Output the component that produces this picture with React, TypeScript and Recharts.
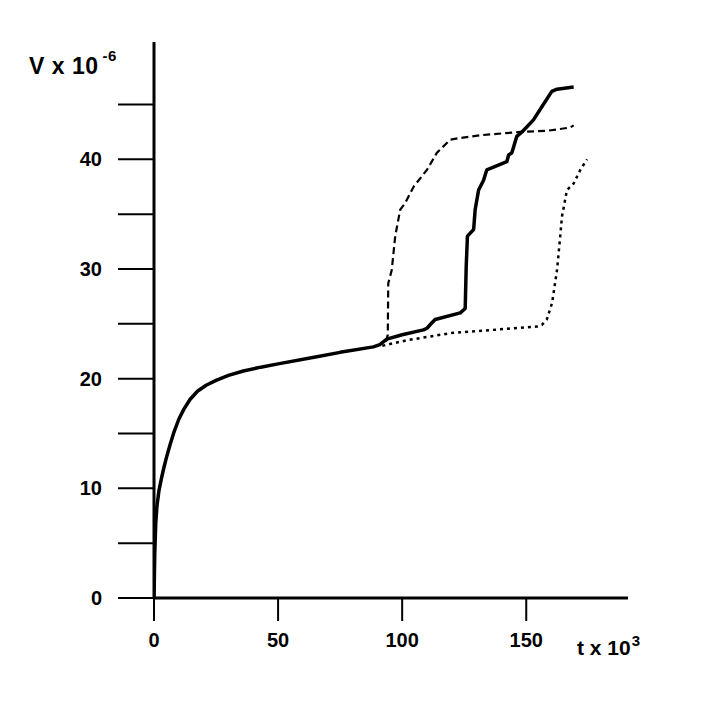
import React from "react";
import { LineChart, Line, XAxis, YAxis, Label } from "recharts";

// t (x 10^3), V (x 10^-6)
const solidT = [0, 0.3, 0.7, 1.2, 2, 3, 4, 5, 6.5, 8, 10, 12, 14.5, 17.5, 21, 25, 30, 36, 43, 50, 65.6, 75, 88.4, 91, 93.8, 100, 108.6, 110, 112, 113.3, 123.4, 125.4, 125.8, 126.3, 128.8, 129.4, 130.8, 132.8, 134.1, 142.2, 142.9, 144.2, 146.2, 148.3, 152.9, 156.3, 160.3, 162.4, 169.1];
const solidV = [0, 4, 6.8, 8.4, 9.8, 10.9, 11.9, 12.8, 14.0, 15.1, 16.3, 17.2, 18.1, 18.85, 19.4, 19.85, 20.3, 20.7, 21.05, 21.35, 22.0, 22.4, 22.9, 23.1, 23.6, 24.0, 24.45, 24.6, 25.1, 25.4, 26.0, 26.4, 30.2, 33.0, 33.6, 35.4, 37.2, 38.1, 39.05, 39.8, 40.4, 40.6, 42.1, 42.5, 43.6, 44.8, 46.2, 46.4, 46.6];

const dashedT = [93.5, 94.2, 94.4, 95.8, 97.2, 99.2, 101.2, 104.6, 110, 114, 119.4, 123.4, 131.5, 147.6, 158.3, 167.7, 169.1];
const dashedV = [23.4, 24.0, 28.7, 29.9, 33.0, 35.4, 36.0, 37.5, 39.05, 40.6, 41.8, 41.95, 42.2, 42.5, 42.6, 42.9, 43.1];

const dottedT = [92, 101.9, 119.4, 139.5, 154.3, 156.3, 158.3, 160.4, 162.4, 163.7, 164.4, 166.4, 169.1, 171.8, 174.5];
const dottedV = [23.0, 23.5, 24.15, 24.5, 24.75, 24.9, 25.4, 26.9, 29.9, 33.0, 34.8, 37.2, 37.8, 39.05, 40.0];

const xTicks = [0, 50, 100, 150];
const yTicks = [0, 5, 10, 15, 20, 25, 30, 35, 40, 45];
const yLabelTicks = [0, 10, 20, 30, 40];

const toData = (ts: number[], vs: number[]) => ts.map((t, i) => ({ t, v: vs[i] }));
const solidData = toData(solidT, solidV);
const dashedData = toData(dashedT, dashedV);
const dottedData = toData(dottedT, dottedV);

const FONT = "'Liberation Sans', Arial, sans-serif";

const YTick = (props: any) => {
  const { x, y, payload } = props;
  if (!yLabelTicks.includes(payload.value)) return <g />;
  return (
    <text x={x} y={y} dy={7} textAnchor="end" fontSize={20} fontWeight="bold" fontFamily={FONT} fill="#000">
      {payload.value}
    </text>
  );
};

const XTick = (props: any) => {
  const { x, y, payload } = props;
  return (
    <text x={x} y={y} dy={22} textAnchor="middle" fontSize={20} fontWeight="bold" fontFamily={FONT} fill="#000">
      {payload.value}
    </text>
  );
};

export default function App() {
  return (
    <div style={{ width: 716, height: 699, background: "#fff" }}>
      <LineChart width={716} height={699} margin={{ top: 34, right: 96, bottom: 79, left: 86 }}>
        <XAxis
          type="number"
          dataKey="t"
          domain={[0, 191]}
          ticks={xTicks}
          allowDataOverflow
          height={30}
          tickSize={23}
          tickMargin={4}
          axisLine={{ stroke: "#000", strokeWidth: 3 }}
          tickLine={{ stroke: "#000", strokeWidth: 2 }}
          tick={<XTick />}
        >
          <Label
            content={() => (
              <text x={569} y={647} fontSize={21} fontWeight="bold" fontFamily={FONT} fill="#000">
                t x 10
                <tspan dx={1} dy={-9} fontSize={15}>3</tspan>
              </text>
            )}
          />
        </XAxis>
        <YAxis
          type="number"
          domain={[0, 50.7]}
          ticks={yTicks}
          allowDataOverflow
          width={60}
          tickSize={36}
          tickMargin={16}
          interval={0}
          axisLine={{ stroke: "#000", strokeWidth: 3 }}
          tickLine={{ stroke: "#000", strokeWidth: 2 }}
          tick={<YTick />}
        >
          <Label
            content={() => (
              <text x={21} y={66} fontSize={23} fontWeight="bold" fontFamily={FONT} fill="#000" letterSpacing={0.5}>
                V x 10
                <tspan dx={4} dy={-13} fontSize={15}>-6</tspan>
              </text>
            )}
          />
        </YAxis>
        <Line
          data={solidData}
          dataKey="v"
          type="linear"
          stroke="#000"
          strokeWidth={3.5}
          strokeLinejoin="round"
          dot={false}
          isAnimationActive={false}
        />
        <Line
          data={dashedData}
          dataKey="v"
          type="linear"
          stroke="#000"
          strokeWidth={2.2}
          strokeDasharray="7 4"
          dot={false}
          isAnimationActive={false}
        />
        <Line
          data={dottedData}
          dataKey="v"
          type="linear"
          stroke="#000"
          strokeWidth={2.5}
          strokeDasharray="3 4"
          dot={false}
          isAnimationActive={false}
        />
      </LineChart>
    </div>
  );
}
